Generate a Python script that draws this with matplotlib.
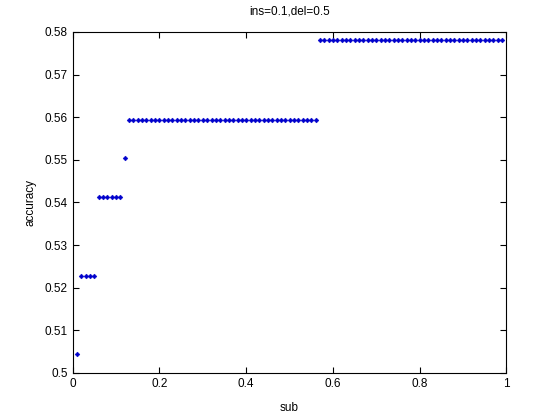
import numpy as np
import matplotlib
matplotlib.use('Agg')
import matplotlib.pyplot as plt

plt.rcParams['font.family'] = ['Liberation Sans', 'DejaVu Sans']

# x = sub (0.01 .. 0.99), y = accuracy
sub = np.round(np.arange(1, 100) * 0.01, 2)
acc = ([0.5045] + [0.5228] * 4 + [0.5412] * 6 + [0.5504]
       + [0.5594] * 44 + [0.5780] * 43)

fig = plt.figure(figsize=(5.6, 4.2), dpi=100)
ax = fig.add_axes([0.13, 0.112, 0.774, 0.812])
ax.plot(sub, acc, linestyle='none', marker='D', markersize=2.4,
        color='#0000cc', markeredgewidth=0.4)
ax.set_xlim(0, 1)
ax.set_ylim(0.5, 0.58)
ax.set_xticks([0, 0.2, 0.4, 0.6, 0.8, 1])
ax.set_xticklabels(['0', '0.2', '0.4', '0.6', '0.8', '1'])
ax.set_yticks(np.round(np.arange(0.5, 0.5801, 0.01), 2))
ax.set_yticklabels(['0.5', '0.51', '0.52', '0.53', '0.54', '0.55', '0.56', '0.57', '0.58'])
ax.tick_params(direction='in', length=4, labelsize=8.5, top=True, right=True, width=0.8)
for s in ax.spines.values():
    s.set_linewidth(0.8)
ax.set_xlabel('sub', fontsize=8.5, labelpad=8.5)
ax.set_ylabel('accuracy', fontsize=8.5, labelpad=6)
ax.set_title('ins=0.1,del=0.5', fontsize=8.5, pad=12.5)
fig.savefig('out.png', dpi=100)
